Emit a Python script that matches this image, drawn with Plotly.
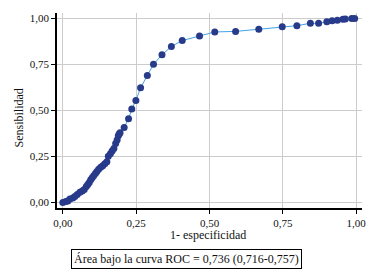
import plotly.graph_objects as go

fpr = [0.0, 0.010, 0.017, 0.024, 0.034, 0.041, 0.049, 0.058, 0.066, 0.073,
       0.080, 0.085, 0.090, 0.095, 0.100, 0.105, 0.111, 0.116, 0.122, 0.129,
       0.136, 0.143, 0.150, 0.155, 0.162, 0.168, 0.174, 0.180, 0.185, 0.189,
       0.192, 0.195, 0.209, 0.224, 0.235, 0.249, 0.265, 0.288, 0.309, 0.338,
       0.370, 0.407, 0.466, 0.518, 0.589, 0.668, 0.748, 0.798, 0.844, 0.872,
       0.900, 0.918, 0.936, 0.955, 0.963, 0.985, 0.995]
tpr = [0.0, 0.005, 0.008, 0.019, 0.025, 0.033, 0.044, 0.055, 0.063, 0.071,
       0.087, 0.098, 0.109, 0.123, 0.134, 0.145, 0.158, 0.169, 0.180, 0.191,
       0.199, 0.210, 0.221, 0.251, 0.265, 0.280, 0.293, 0.321, 0.339, 0.363,
       0.372, 0.379, 0.408, 0.455, 0.508, 0.555, 0.623, 0.690, 0.751, 0.803,
       0.848, 0.880, 0.905, 0.927, 0.930, 0.942, 0.955, 0.961, 0.974, 0.974,
       0.982, 0.988, 0.991, 0.996, 0.997, 1.0, 1.0]
tick_vals = [0, 0.25, 0.5, 0.75, 1.0]

font_family = "Liberation Serif, Times New Roman, serif"

fig = go.Figure()
fig.add_trace(go.Scatter(
    x=fpr, y=tpr, mode="lines+markers",
    line=dict(color="#3fa3e6", width=1),
    marker=dict(color="#283a8a", size=7),
    showlegend=False,
))

axis_common = dict(
    tickvals=tick_vals, tickformat=".2f",
    showgrid=True, gridcolor="#cccccc", gridwidth=1,
    zeroline=False, showline=True, linecolor="black", linewidth=1.5,
    ticks="outside", ticklen=4, tickcolor="black", tickwidth=1,
    tickfont=dict(family=font_family, size=11, color="#111"),
    automargin=False,
)
fig.update_xaxes(range=[-0.02, 1.02], **axis_common)
fig.update_yaxes(range=[-0.03, 1.03], **axis_common)

# page has an 8px body margin, so the figure is 16px smaller than the window
fig.update_layout(
    width=361, height=262,
    margin=dict(l=49, r=7, t=5, b=62, autoexpand=False),
    plot_bgcolor="white", paper_bgcolor="white",
    separators=",.",
    font=dict(family=font_family, size=12, color="#111"),
    annotations=[
        dict(text="1- especificidad", xref="paper", yref="paper",
             x=(208 - 57) / 305, y=(207.5 - 234.5) / 195,
             xanchor="center", yanchor="middle", showarrow=False,
             font=dict(family=font_family, size=12, color="#111")),
        dict(text="Sensibilidad", xref="paper", yref="paper",
             x=(18 - 57) / 305, y=(207.5 - 118) / 195, textangle=-90,
             xanchor="center", yanchor="middle", showarrow=False,
             font=dict(family=font_family, size=12, color="#111")),
        dict(text="Área bajo la curva ROC = 0,736 (0,716-0,757)",
             xref="paper", yref="paper",
             x=(186 - 57) / 305, y=(207.5 - 258) / 195,
             xanchor="center", yanchor="middle", showarrow=False,
             bordercolor="black", borderwidth=1, borderpad=2,
             font=dict(family=font_family, size=12, color="#111")),
    ],
)

fig.write_html("out.html")
